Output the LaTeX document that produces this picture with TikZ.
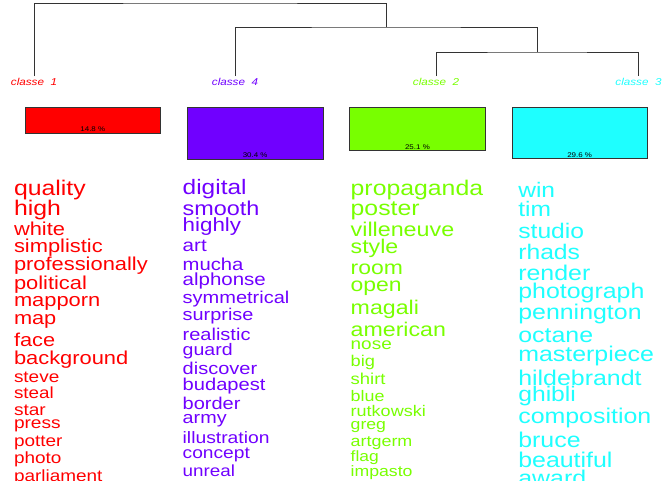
\documentclass[tikz,border=0pt]{standalone}
\usepackage{fontspec}
\setmainfont{Liberation Sans}[FakeStretch=1.17]
\definecolor{cred}{HTML}{FF0000}
\definecolor{cpur}{HTML}{7000FF}
\definecolor{cgrn}{HTML}{78FF00}
\definecolor{ccya}{HTML}{1EFFFF}
\definecolor{tree}{HTML}{333333}
\tikzset{
  word/.style={anchor=base west, inner sep=0pt, outer sep=0pt},
  leaflabel/.style={anchor=base, inner sep=0pt, font=\fontsize{10}{10}\selectfont\itshape},
  bar/.style={draw=tree, line width=0.6pt, anchor=north west, inner sep=0pt},
  pct/.style={anchor=base, inner sep=0pt, font=\fontsize{6.8}{6.8}\selectfont, text=black},
  branch/.style={draw=tree, line width=0.8pt}
}
\begin{document}
\begin{tikzpicture}[x=1pt,y=-1pt]
\useasboundingbox (0,0) rectangle (672,480);
\clip (0,0) rectangle (672,480);
% dendrogram
\coordinate (l1) at (34,76);
\coordinate (l4) at (235,76);
\coordinate (l2) at (436,76);
\coordinate (l3) at (638.5,76);
\coordinate (j23) at (537,52);
\coordinate (j423) at (386,27);
\coordinate (jtop) at (210,3);
\draw[branch] (l1) |- (jtop) -| (j423);
\draw[branch] (l4) |- (j423) -| (j23);
\draw[branch] (l2) |- (j23) -| (l3);
\node[leaflabel, text=cred] (t1) at (34,85) {classe~~1};
\node[leaflabel, text=cpur] (t4) at (235,85) {classe~~4};
\node[leaflabel, text=cgrn] (t2) at (436,85) {classe~~2};
\node[leaflabel, text=ccya] (t3) at (638.5,85) {classe~~3};
% bars
\node[bar, fill=cred, minimum width=135.6pt, minimum height=25.7pt] (b1) at (24.7,107) {};
\node[bar, fill=cpur, minimum width=135.7pt, minimum height=52pt] (b4) at (187,107) {};
\node[bar, fill=cgrn, minimum width=135.7pt, minimum height=43pt] (b2) at (349.3,107.3) {};
\node[bar, fill=ccya, minimum width=135.3pt, minimum height=51.3pt] (b3) at (511.7,107) {};
\node[pct] (p1) at ([yshift=1.8pt]b1.south) {14.8 \%};
\node[pct] (p4) at ([yshift=1.8pt]b4.south) {30.4 \%};
\node[pct] (p2) at ([yshift=1.8pt]b2.south) {25.1 \%};
\node[pct] (p3) at ([yshift=1.8pt]b3.south) {29.6 \%};
% column 1
\foreach \w/\y/\s [count=\i] in {quality/195.3/21.2, high/215.7/21.2, white/235.3/18.7, simplistic/252/18.7, professionally/270/18.7, political/289.3/18.7, mapporn/306.7/18.7, map/324.5/18.6, face/346.7/18.6, background/364.3/18.7, steve/382/16.2, steal/398.7/16.1, star/415/16.3, press/428.3/16.3, potter/446.7/16.2, photo/463.3/16.2, parliament/481/16.2}
  \node[word, text=cred, font=\fontsize{\s}{\s}\selectfont] (a\i) at (14,\y) {\w};
% column 2
\foreach \w/\y/\s [count=\i] in {digital/194/20.9, smooth/215/20, highly/231.7/19.1, art/251.7/17.6, mucha/270/17.3, alphonse/285/17.5, symmetrical/303.3/17.1, surprise/320/17, realistic/340/17.1, guard/355/16.7, discover/374.3/17.1, budapest/390/17.2, border/409.3/17.1, army/423.3/16.9, illustration/443.3/16.5, concept/458.3/16.4, unreal/476.7/16.1}
  \node[word, text=cpur, font=\fontsize{\s}{\s}\selectfont] (b\i) at (182.7,\y) {\w};
% column 3
\foreach \w/\y/\s [count=\i] in {propaganda/195/21.2, poster/215/21.2, villeneuve/236.7/19.9, style/253.3/19.8, room/274.3/19.6, open/291.7/19.6, magali/314.3/19.8, american/336/19.8, nose/349.3/16.2, big/366.7/15.6, shirt/384.3/15.8, blue/401/15.3, rutkowski/416.7/15.4, greg/429.3/15.1, artgerm/446.7/15.3, flag/461.7/14.9, impasto/476.7/15.1}
  \node[word, text=cgrn, font=\fontsize{\s}{\s}\selectfont] (c\i) at (350.7,\y) {\w};
% column 4
\foreach \w/\y/\s [count=\i] in {win/197.3/21, tim/216.7/21, studio/238.3/21.1, rhads/259.3/21.1, render/280/21.3, photograph/298.3/21.3, pennington/319/21.3, octane/342.3/21.3, masterpiece/361/21.3, hildebrandt/385/21.3, ghibli/401.7/21.1, composition/423.3/21.3, bruce/447.3/21.3, beautiful/467.7/21.3, award/485.5/21.3}
  \node[word, text=ccya, font=\fontsize{\s}{\s}\selectfont] (d\i) at (518.3,\y) {\w};
\end{tikzpicture}
\end{document}
